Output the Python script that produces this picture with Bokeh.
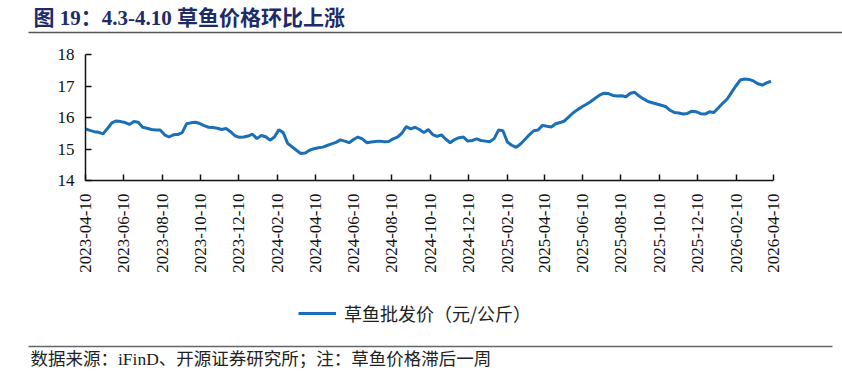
import pandas as pd
from datetime import datetime
from bokeh.plotting import figure
from bokeh.models import (Range1d, FixedTicker, DatetimeTickFormatter, Legend,
                          LegendItem, ColumnDataSource)
from bokeh.layouts import column
from bokeh.embed import file_html
from bokeh.resources import INLINE
from bokeh.core.properties import value

# ---------------- data ----------------
title_text = "图 19：4.3-4.10 草鱼价格环比上涨"
series_name = "草鱼批发价（元/公斤）"
footer_text = "数据来源：iFinD、开源证券研究所；注：草鱼价格滞后一周"

start_date = "2023-04-10"   # weekly observations
prices = [
    15.64, 15.59, 15.55, 15.53, 15.48, 15.65, 15.83, 15.89, 15.87, 15.84,
    15.78, 15.87, 15.85, 15.69, 15.66, 15.62, 15.60, 15.60, 15.45, 15.38,
    15.45, 15.46, 15.52, 15.80, 15.83, 15.85, 15.81, 15.74, 15.69, 15.68,
    15.66, 15.62, 15.65, 15.55, 15.42, 15.37, 15.38, 15.41, 15.47, 15.33,
    15.43, 15.39, 15.28, 15.38, 15.61, 15.52, 15.18, 15.07, 14.96, 14.86,
    14.87, 14.96, 15.01, 15.04, 15.06, 15.11, 15.16, 15.21, 15.29, 15.25,
    15.20, 15.30, 15.38, 15.32, 15.20, 15.22, 15.24, 15.25, 15.23, 15.24,
    15.32, 15.38, 15.50, 15.71, 15.64, 15.69, 15.62, 15.52, 15.62, 15.46,
    15.40, 15.45, 15.31, 15.20, 15.30, 15.36, 15.38, 15.25, 15.27, 15.32,
    15.27, 15.25, 15.23, 15.33, 15.60, 15.58, 15.22, 15.12, 15.05, 15.16,
    15.30, 15.45, 15.58, 15.60, 15.75, 15.72, 15.70, 15.80, 15.84, 15.89,
    16.02, 16.15, 16.25, 16.34, 16.42, 16.51, 16.61, 16.71, 16.77, 16.76,
    16.70, 16.68, 16.69, 16.66, 16.77, 16.80, 16.68, 16.59, 16.51, 16.47,
    16.43, 16.39, 16.35, 16.23, 16.16, 16.14, 16.11, 16.13, 16.20, 16.18,
    16.12, 16.11, 16.18, 16.16, 16.30, 16.45, 16.58, 16.79, 17.00, 17.19,
    17.22, 17.21, 17.16, 17.07, 17.03, 17.10, 17.15,
]

tick_labels = [
    "2023-04-10", "2023-06-10", "2023-08-10", "2023-10-10", "2023-12-10",
    "2024-02-10", "2024-04-10", "2024-06-10", "2024-08-10", "2024-10-10",
    "2024-12-10", "2025-02-10", "2025-04-10", "2025-06-10", "2025-08-10",
    "2025-10-10", "2025-12-10", "2026-02-10", "2026-04-10",
]
y_ticks = [14, 15, 16, 17, 18]

# ---------------- build ----------------
dates = pd.date_range(start_date, periods=len(prices), freq="7D")
src = ColumnDataSource(data=dict(date=dates, price=prices))
tick_ms = [float(pd.Timestamp(t).value // 10**6) for t in tick_labels]

W = 842
LINE_COLOR = "#1b6fb6"
LINE_WIDTH = 3
SERIF = "Liberation Serif, Noto Sans CJK SC"


def strip(h):
    f = figure(width=W, height=h, x_range=Range1d(0, W), y_range=Range1d(0, h),
               output_backend="svg", toolbar_location=None, min_border=0,
               x_axis_location=None, y_axis_location=None, frame_align=False)
    f.outline_line_color = None
    f.xgrid.visible = False
    f.ygrid.visible = False
    return f


# title strip (page y 0..40)
pt = strip(40)
pt.text(x=[33], y=[23], text=[title_text], text_font=value(SERIF),
        text_font_size="21px", text_font_style="bold", text_color="#1d2b6b",
        text_baseline="middle", text_align="left")
pt.segment(x0=[28], y0=[8], x1=[W], y1=[8], line_color="#555555", line_width=1.5)

# main chart (page y 40..290)
p = figure(width=W, height=250, x_axis_type="datetime",
           x_range=Range1d(datetime(2023, 4, 10), datetime(2026, 4, 10)),
           y_range=Range1d(14, 18),
           output_backend="svg", toolbar_location=None, frame_align=False,
           min_border_left=85, min_border_right=69, min_border_top=14,
           min_border_bottom=110)
p.outline_line_color = None
p.xgrid.visible = False
p.ygrid.visible = False

p.line(x="date", y="price", source=src, line_color=LINE_COLOR,
       line_width=LINE_WIDTH)

fmt = "%Y-%m-%d"
p.xaxis.ticker = FixedTicker(ticks=tick_ms)
p.xaxis.formatter = DatetimeTickFormatter(
    milliseconds=fmt, seconds=fmt, minsec=fmt, minutes=fmt, hourmin=fmt,
    hours=fmt, days=fmt, months=fmt, years=fmt)
p.xaxis.major_label_orientation = 3.14159265 / 2
p.xaxis.major_label_standoff = 13
p.yaxis.ticker = FixedTicker(ticks=y_ticks)
p.yaxis.major_label_standoff = 11

for ax in (p.xaxis[0], p.yaxis[0]):
    ax.major_tick_in = 6
    ax.major_tick_out = 0
    ax.minor_tick_in = 0
    ax.minor_tick_out = 0
    ax.axis_line_color = "#111111"
    ax.axis_line_width = 1.5
    ax.major_tick_line_color = "#111111"
    ax.major_tick_line_width = 1.5
    ax.major_label_text_font = "Liberation Serif"
    ax.major_label_text_font_size = "17px"
    ax.major_label_text_color = "#111111"

# legend strip (page y 290..340): the same series (outside this strip's view)
# serves as the legend key
pl = strip(50)
key = pl.line(x="date", y="price", source=src, line_color=LINE_COLOR,
              line_width=LINE_WIDTH)
legend = Legend(items=[LegendItem(label=series_name, renderers=[key])],
                location=(298, 14), orientation="horizontal",
                glyph_width=38, glyph_height=22, label_height=22,
                label_standoff=8, padding=0, spacing=0, margin=0,
                border_line_color=None, background_fill_alpha=0,
                label_text_font="Noto Sans CJK SC", label_text_font_size="18px",
                label_text_color="#222222")
pl.add_layout(legend, "center")

# footer strip (page y 340..380)
pf = strip(40)
pf.segment(x0=[28], y0=[34], x1=[832], y1=[34], line_color="#666666",
           line_width=1.5)
pf.text(x=[30], y=[22], text=[footer_text], text_font=value(SERIF),
        text_font_size="17.5px", text_color="#222222",
        text_baseline="middle", text_align="left")

layout = column(pt, p, pl, pf, spacing=0)
open("out.html", "w").write(file_html(layout, INLINE))
